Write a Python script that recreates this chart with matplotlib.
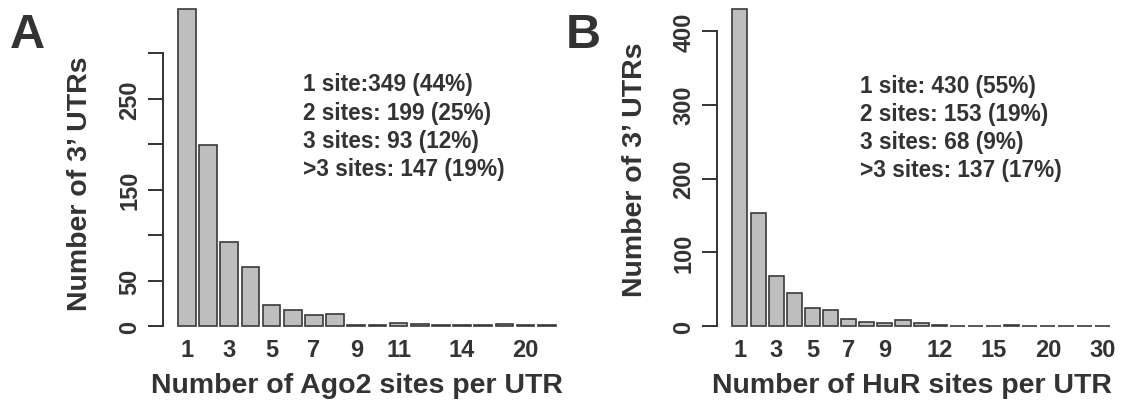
import numpy as np
import matplotlib
matplotlib.use("Agg")
import matplotlib.pyplot as plt

# Ago2 sites per 3' UTR
ago2_sites = ['1', '2', '3', '4', '5', '6', '7', '8', '9', '10', '11', '12',
              '13', '14', '16', '18', '20', '25']
ago2_counts = [349, 199, 93, 65, 23, 18, 12, 13, 1, 1, 4, 3, 1, 1, 1, 2, 1, 1]
ago2_shown = ['1', '3', '5', '7', '9', '11', '14', '20']
ago2_yticks = [0, 50, 100, 150, 200, 250, 300]
ago2_ylabels = ['0', '50', '', '150', '', '250', '']
ago2_note = ['1 site:349 (44%)', '2 sites: 199 (25%)',
             '3 sites: 93 (12%)', '>3 sites: 147 (19%)']

# HuR sites per 3' UTR
hur_sites = ['1', '2', '3', '4', '5', '6', '7', '8', '9', '10', '11', '12',
             '13', '14', '15', '16', '18', '20', '22', '25', '30']
hur_counts = [430, 153, 68, 45, 25, 22, 10, 6, 5, 8, 4, 2, 1, 1, 1, 2, 1, 1,
              1, 1, 1]
hur_shown = ['1', '3', '5', '7', '9', '12', '15', '20', '30']
hur_yticks = [0, 100, 200, 300, 400]
hur_ylabels = ['0', '100', '200', '300', '400']
hur_note = ['1 site: 430 (55%)', '2 sites: 153 (19%)',
            '3 sites: 68 (9%)', '>3 sites: 137 (17%)']

plt.rcParams['font.family'] = ['Liberation Sans', 'DejaVu Sans']
plt.rcParams['font.weight'] = 'bold'
plt.rcParams['axes.labelweight'] = 'bold'
ink = '#333333'

fig = plt.figure(figsize=(11.22, 4.02), dpi=100)
W, H = 1122.0, 402.0


def panel(left_px, sites, counts, shown, yticks, ylabels, note, xlabel,
          ylab_pos, note_pos, letter, letter_x):
    n = len(counts)
    # R barplot geometry: width 1, space 0.2, 4% padding
    centers = 0.7 + 1.2 * np.arange(n)
    span = n * 1.2 - 0.2
    ymax = max(counts)
    ax = fig.add_axes([left_px / W, 62 / H, 407.6 / W, 343 / H])
    ax.set_xlim(0.2 - 0.04 * span, n * 1.2 + 0.04 * span)
    ax.set_ylim(-0.04 * ymax, 1.04 * ymax)
    ax.bar(centers, counts, width=1.0, color='#bebebe', edgecolor='#3a3a3a',
           linewidth=1.2, clip_on=False)

    for s in ['top', 'right', 'bottom']:
        ax.spines[s].set_visible(False)
    ax.spines['left'].set_bounds(yticks[0], yticks[-1])
    ax.spines['left'].set_linewidth(1.4)
    ax.spines['left'].set_color(ink)
    ax.set_yticks(yticks)
    ax.set_yticklabels(ylabels, rotation=90, va='center')
    ax.tick_params(axis='y', length=10.8, width=1.4, color=ink,
                   labelsize=17, labelcolor=ink, pad=5)

    pos = [centers[sites.index(s)] for s in shown]
    ax.set_xticks(pos)
    ax.set_xticklabels(shown)
    ax.tick_params(axis='x', length=0, labelsize=17, labelcolor=ink, pad=-1)

    ax.set_xlabel(xlabel, fontsize=20.5, color=ink, va='baseline')
    ax.xaxis.set_label_coords(0.477, -0.1545)
    ax.set_ylabel("Number of 3\u2019 UTRs", fontsize=20.5, color=ink,
                  va='center')
    ax.yaxis.set_label_coords(*ylab_pos)

    ax.text(note_pos[0], note_pos[1], '\n'.join(note), transform=ax.transAxes,
            ha='left', va='top', fontsize=16.3, color=ink, linespacing=1.28)
    fig.text(letter_x / W, (H - 48) / H, letter,
             fontsize=35, color=ink, ha='left', va='baseline')
    return ax


panel(163, ago2_sites, ago2_counts, ago2_shown, ago2_yticks, ago2_ylabels,
      ago2_note, 'Number of Ago2 sites per UTR', (-0.2036, 0.4548),
      (0.344, 0.777), 'A', 10)
panel(717.3, hur_sites, hur_counts, hur_shown, hur_yticks, hur_ylabels,
      hur_note, 'Number of HuR sites per UTR', (-0.2019, 0.4956),
      (0.350, 0.772), 'B', 566)

fig.savefig('out.png', dpi=100)
